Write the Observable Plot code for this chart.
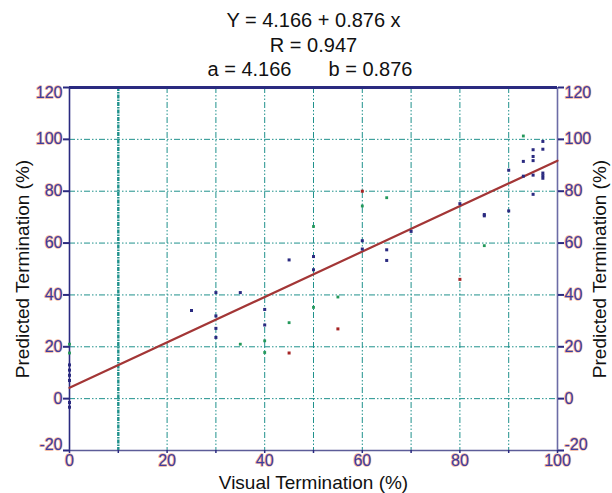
<!DOCTYPE html>
<html>
<head>
<meta charset="utf-8">
<script src="https://cdn.jsdelivr.net/npm/d3@7"></script>
<script src="https://cdn.jsdelivr.net/npm/@observablehq/plot@0.6"></script>
<style>
  body { margin: 0; background: #fff; }
  #chart svg { display: block; }
</style>
</head>
<body>
<div id="chart"></div>
<script>
// Regression coefficients
const intercept = 4.166;
const slope = 0.876;
const rValue = 0.947;

// Axis ticks and grid
const yTicks = [-20, 0, 20, 40, 60, 80, 100, 120];
const xTicks = [0, 10, 20, 30, 40, 50, 60, 70, 80, 90, 100];
const xLabels = [0, 20, 40, 60, 80, 100];
const gridX = [20, 30, 40, 50, 60, 70, 80, 90];
const gridY = [0, 20, 40, 60, 80, 100];

// Observations (visual %, predicted %), split by group
const navyX = [60, 60, 65, 50, 45, 65, 70, 80, 97, 95, 97, 95, 95, 93, 90, 93, 95, 97, 97, 97, 95, 85, 85, 90, 30, 35, 25, 30, 30, 30, 50, 40, 40, 0, 0, 0, 0, 0, 0];
const navyY = [60.9, 57.7, 57.4, 54.8, 53.5, 53.3, 64.5, 75.2, 99.2, 96, 96.2, 93.4, 91.8, 91.5, 88.1, 85.8, 86.2, 87, 86, 85, 78.8, 70.5, 71, 72.4, 40.9, 40.9, 34, 31.9, 27.1, 23.6, 49.7, 34.4, 28.4, 13, 11, 9, 7, -1.5, -3.3];
const greenX = [93, 85, 65, 60, 50, 55, 50, 45, 40, 40, 35, 0, 0];
const greenY = [101.3, 59, 77.5, 74.3, 66.4, 39.2, 35.2, 29.3, 22.3, 17.8, 21, 21, 17.6];
const redX = [60, 80, 55, 45];
const redY = [80, 46, 26.9, 17.6];

const pts = (xs, ys) => xs.map((x, i) => ({x, y: ys[i]}));
const fitLine = [0, 100].map(x => ({x, y: intercept + slope * x}));

const navy = "#2a2a80";
const teal = "#1f918c";
const labelStyle = {fontSize: 16, fill: "#3c3ca0", stroke: "#f2b49a", strokeWidth: 1.4, paintOrder: "stroke"};
// end labels of the y axis sit slightly inside the frame
const yNudge = d => d === -20 ? -6 : d === 120 ? 5 : 0;
const font = "'Liberation Sans', Arial, sans-serif";
const titleStyle = {frameAnchor: "top", lineAnchor: "middle", fontSize: 20, fill: "#111"};

const chart = Plot.plot({
  width: 612,
  height: 493,
  marginLeft: 69,
  marginRight: 55,
  marginTop: 87,
  marginBottom: 43,
  style: {fontFamily: font, background: "#fff"},
  x: {domain: [0, 100], axis: null},
  y: {domain: [-20, 120], axis: null},
  marks: [
    // dash-dot grid
    Plot.ruleX(gridX, {x: d => d, stroke: teal, strokeWidth: 1, strokeDasharray: "6,2,1.5,2,1.5,2"}),
    Plot.ruleY(gridY, {y: d => d, stroke: teal, strokeWidth: 1, strokeDasharray: "6,2,1.5,2,1.5,2"}),
    Plot.ruleX([10], {x: d => d, stroke: teal, strokeWidth: 2.4, strokeDasharray: "4,1,1.5,1"}),
    // frame lines
    Plot.ruleX([0], {x: d => d, stroke: navy, strokeWidth: 1.6}),
    Plot.ruleX([100], {x: d => d, stroke: "#6c6ca6", strokeWidth: 1.6}),
    Plot.ruleY([-20], {y: d => d, stroke: "#5c5c98", strokeWidth: 1.6}),
    Plot.ruleY([120], {y: d => d, stroke: navy, strokeWidth: 3}),
    // tick marks
    Plot.axisY({anchor: "left", ticks: yTicks, tickSize: 6, tickFormat: () => "", stroke: navy, strokeWidth: 2, label: null}),
    Plot.axisY({anchor: "right", ticks: yTicks, tickSize: 6, tickFormat: () => "", stroke: navy, strokeWidth: 2, label: null}),
    Plot.axisX({anchor: "bottom", ticks: xTicks, tickSize: 3, tickFormat: () => "", stroke: navy, strokeWidth: 1.5, label: null}),
    // tick labels
    ...yTicks.map(t => Plot.text([t], {y: d => d, text: d => String(d), frameAnchor: "left", textAnchor: "end", dx: -7, dy: yNudge(t), ...labelStyle})),
    ...yTicks.map(t => Plot.text([t], {y: d => d, text: d => String(d), frameAnchor: "right", textAnchor: "start", dx: 7, dy: yNudge(t), ...labelStyle})),
    Plot.text(xLabels, {x: d => d, text: d => String(d), frameAnchor: "bottom", lineAnchor: "top", dy: 4, ...labelStyle}),
    // axis titles
    Plot.text(["Predicted Termination (%)"], {frameAnchor: "left", textAnchor: "middle", lineAnchor: "middle", rotate: -90, dx: -47, fontSize: 19, fill: "#111"}),
    Plot.text(["Predicted Termination (%)"], {frameAnchor: "right", textAnchor: "middle", lineAnchor: "middle", rotate: -90, dx: 42, fontSize: 19, fill: "#111"}),
    Plot.text(["Visual Termination (%)"], {frameAnchor: "bottom", lineAnchor: "middle", dy: 32, fontSize: 19, fill: "#111"}),
    // fit summary
    Plot.text([`Y = ${intercept} + ${slope} x`], {...titleStyle, dy: -67}),
    Plot.text([`R = ${rValue}`], {...titleStyle, dy: -42}),
    Plot.text([`a = ${intercept}`], {...titleStyle, dy: -18, dx: -64}),
    Plot.text([`b = ${slope}`], {...titleStyle, dy: -18, dx: 57}),
    // regression line
    Plot.line(fitLine, {x: "x", y: "y", stroke: "#a33636", strokeWidth: 2.2}),
    // observations
    Plot.dot(pts(navyX, navyY), {x: "x", y: "y", symbol: "square", r: 1.7, fill: navy}),
    Plot.dot(pts(greenX, greenY), {x: "x", y: "y", symbol: "square", r: 1.6, fill: "#23985a"}),
    Plot.dot(pts(redX, redY), {x: "x", y: "y", symbol: "square", r: 1.7, fill: "#a52424"})
  ]
});

document.getElementById("chart").appendChild(chart);
</script>
</body>
</html>
